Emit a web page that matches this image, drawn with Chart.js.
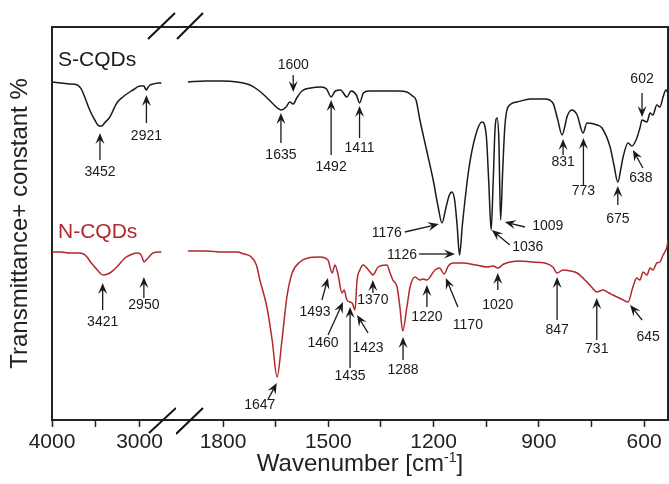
<!DOCTYPE html>
<html><head><meta charset="utf-8">
<script src="https://cdn.jsdelivr.net/npm/chart.js@4.4.1/dist/chart.umd.min.js"></script>
<style>
html,body{margin:0;padding:0;background:#fff;}
#wrap{position:relative;width:669px;height:484px;overflow:hidden;font-family:'Liberation Sans',Arial,sans-serif;}
canvas{position:absolute;top:0;}
#cL{left:0;}
#cR{left:176px;}
#xtitle{position:absolute;left:52px;width:616px;top:449px;text-align:center;font-size:24px;color:#222;line-height:28px;white-space:nowrap;}
#xtitle sup{font-size:14px;line-height:0;vertical-align:9px;}
</style></head><body>
<div id="wrap">
<canvas id="cL" width="176" height="484"></canvas>
<canvas id="cR" width="493" height="484"></canvas>
<div id="xtitle">Wavenumber [cm<sup>-1</sup>]</div>
</div>
<script>
// ---------- DATA ----------
const seriesNames = ['S-CQDs', 'N-CQDs'];
const yTitle = 'Transmittance+ constant %';

// high-wavenumber segment (4000 - 2750 cm-1)
const sWnHigh = [4000,3900,3800,3710,3660,3626,3569,3511,3460,3430,3400,3339,3259,3190,3075,2994,2950,2932,2921,2908,2880,2840,2790,2750];
const sTHigh  = [338,337,336,335,330,323,310,300,294,294,297,303,317,323,330,334,334,331,330,332,335,336,337,337];
const nWnHigh = [4000,3900,3800,3700,3640,3600,3560,3511,3440,3415,3339,3259,3167,3080,3029,2990,2971,2948,2925,2902,2845,2750];
const nTHigh  = [168,168,167,167,166,163,158,153,146,145,147,153,162,166,167,166,163,158,160,162,167,168];

// low-wavenumber segment (1900 - 532 cm-1)
const sWnLow = [1900,1850,1800,1760,1723,1700,1680,1660,1645,1635,1620,1610,1600,1590,1575,1550,1520,1505,1492,1480,1465,1447,1435,1420,1411,1400,1385,1350,1300,1276,1260,1250,1239,1220,1200,1188,1176,1165,1155,1148,1140,1133,1126,1118,1100,1080,1062,1050,1043,1036,1030,1025,1019,1014,1009,1003,997,988,962,925,883,860,846,834,825,820,806,791,774,763,734,720,697,686,675,666,660,646,635,623,612,606,592,583,575,564,555,546,538,532];
const sTLow  = [338,339,339,338,335,330,324,317,312,310,313,318,316,322,329,332,333,331,323,329,330,323,329,325,317,327,329,329,329,328,324,320,300,270,238,215,197,212,225,228,220,195,165,195,250,285,298,285,240,190,240,290,302,280,200,250,293,313,318,321,321,317,300,285,295,303,310,305,287,297,295,292,273,255,238,252,263,277,274,280,292,300,298,307,305,315,313,323,330,327];
const nWnLow = [1900,1850,1800,1760,1740,1723,1705,1695,1675,1660,1646,1632,1618,1603,1581,1558,1524,1501,1489,1481,1472,1461,1455,1447,1438,1432,1424,1418,1410,1401,1381,1373,1358,1333,1324,1316,1304,1296,1288,1276,1267,1253,1239,1230,1219,1196,1183,1170,1158,1145,1116,1080,1048,1030,1017,1000,982,954,920,883,860,848,831,810,791,763,745,735,717,700,689,665,646,632,621,612,603,592,583,575,564,555,546,541,535,532];
const nTLow  = [169,169,168,168,166,164,155,140,113,80,43,80,123,147,158,162,163,160,147,155,145,127,130,120,118,117,110,140,150,155,148,145,153,155,147,140,133,113,89,113,133,143,140,141,140,150,152,146,154,157,157,155,153,154,152,156,158,159,158,157,153,147,150,149,147,138,131,128,130,127,125,121,118,133,142,140,148,145,152,150,157,158,165,168,173,180];

// axis ticks
const xTicksHigh  = [4000, 3500, 3000];
const xLabelsHigh = ['4000', '', '3000'];
const xTicksLow   = [1800, 1650, 1500, 1350, 1200, 1050, 900, 750, 600];
const xLabelsLow  = ['1800', '', '1500', '', '1200', '', '900', '', '600'];

// peak annotations: tip at (wn, t) in data units; tail/text offsets in px
const annHigh = [
  {label:'3452', wn:3452, t:287, tail:[0,27], text:[0,39]},
  {label:'2921', wn:2921, t:325, tail:[0,28], text:[0,41]},
  {label:'3421', wn:3421, t:137, tail:[0,27], text:[0,39]},
  {label:'2950', wn:2950, t:143, tail:[0,21], text:[0,28]}
];
const annLow = [
  {label:'1600', wn:1600, t:328, tail:[0,-17], text:[0,-27]},
  {label:'1635', wn:1635, t:307, tail:[0,30], text:[0,42]},
  {label:'1492', wn:1492, t:320, tail:[0,55], text:[0,67]},
  {label:'1411', wn:1411, t:314, tail:[0,32], text:[0,42]},
  {label:'1176', wn:1185, t:196, tail:[-34,8], text:[-52,9]},
  {label:'1126', wn:1139, t:166, tail:[-36,0], text:[-53,1]},
  {label:'1036', wn:1034, t:190, tail:[18,15], text:[36,17]},
  {label:'1009', wn:997,  t:198, tail:[20,5], text:[43,4]},
  {label:'831',  wn:831,  t:281, tail:[0,16], text:[0,23]},
  {label:'773',  wn:773,  t:282, tail:[0,47], text:[0,53]},
  {label:'675',  wn:675,  t:234, tail:[0,19], text:[0,33]},
  {label:'638',  wn:632,  t:270, tail:[10,18], text:[8,28]},
  {label:'602',  wn:606,  t:303, tail:[0,-24], text:[0,-38]},
  {label:'1647', wn:1647, t:37,  tail:[-9,17], text:[-17,22]},
  {label:'1493', wn:1501, t:142, tail:[-6,22], text:[-13,34]},
  {label:'1460', wn:1458, t:118, tail:[-15,33], text:[-20,41]},
  {label:'1435', wn:1438, t:113, tail:[0,61], text:[0,69]},
  {label:'1423', wn:1418, t:105, tail:[11,18], text:[11,33]},
  {label:'1370', wn:1373, t:140, tail:[0,13], text:[0,20]},
  {label:'1288', wn:1287, t:83,  tail:[0,23], text:[0,33]},
  {label:'1220', wn:1219, t:135, tail:[0,22], text:[0,32]},
  {label:'1170', wn:1165, t:142, tail:[12,29], text:[22,47]},
  {label:'1020', wn:1017, t:147, tail:[0,17], text:[0,32]},
  {label:'847',  wn:848,  t:143, tail:[0,43], text:[0,53]},
  {label:'731',  wn:735,  t:122, tail:[0,42], text:[0,51]},
  {label:'645',  wn:640,  t:115, tail:[12,15], text:[18,32]}
];

// ---------- STYLE ----------
const FONT = "'Liberation Sans', Arial, sans-serif";
const BLACK = '#1a1a1a';
const RED = '#b3272d';
const AXIS = '#222222';
Chart.defaults.font.family = FONT;
Chart.defaults.color = AXIS;

const zip = (xs, ys) => xs.map((x, i) => ({x: x, y: ys[i]}));

function arrow(ctx, x1, y1, x2, y2) {
  const ang = Math.atan2(y2 - y1, x2 - x1);
  const L = 11, W = 4.5;
  const len = Math.hypot(x2 - x1, y2 - y1);
  if (len > L * 0.7) {
    ctx.beginPath(); ctx.moveTo(x1, y1);
    ctx.lineTo(x2 - Math.cos(ang) * L * 0.6, y2 - Math.sin(ang) * L * 0.6);
    ctx.stroke();
  }
  ctx.save(); ctx.translate(x2, y2); ctx.rotate(ang);
  ctx.beginPath(); ctx.moveTo(0, 0); ctx.lineTo(-L, -W); ctx.lineTo(-L * 0.62, 0); ctx.lineTo(-L, W);
  ctx.closePath(); ctx.fill(); ctx.restore();
}

function drawAnnotations(chart, list) {
  const xs = chart.scales.x, ys = chart.scales.y, ctx = chart.ctx;
  ctx.save();
  ctx.fillStyle = BLACK; ctx.strokeStyle = BLACK; ctx.lineWidth = 1.3;
  ctx.font = '14px ' + FONT; ctx.textAlign = 'center'; ctx.textBaseline = 'middle';
  list.forEach(a => {
    const tx = xs.getPixelForValue(a.wn), ty = ys.getPixelForValue(a.t);
    arrow(ctx, tx + a.tail[0], ty + a.tail[1], tx, ty);
    ctx.fillText(a.label, tx + a.text[0], ty + a.text[1]);
  });
  ctx.restore();
}

function seg(ctx, x1, y1, x2, y2) { ctx.beginPath(); ctx.moveTo(x1, y1); ctx.lineTo(x2, y2); ctx.stroke(); }

const decoHigh = {
  id: 'decoHigh',
  afterDraw(chart) {
    const ctx = chart.ctx, a = chart.chartArea;
    ctx.save();
    ctx.strokeStyle = '#111'; ctx.lineWidth = 2;
    seg(ctx, a.right - 28, a.top + 12, a.right - 1, a.top - 14);
    seg(ctx, a.right - 27, a.bottom + 13, a.right, a.bottom - 12);
    ctx.font = '21px ' + FONT; ctx.textAlign = 'left'; ctx.textBaseline = 'middle';
    ctx.fillStyle = BLACK; ctx.fillText(seriesNames[0], a.left + 6, a.top + 33);
    ctx.fillStyle = RED;   ctx.fillText(seriesNames[1], a.left + 6, a.top + 205);
    ctx.restore();
    drawAnnotations(chart, annHigh);
  }
};
const decoLow = {
  id: 'decoLow',
  afterDraw(chart) {
    const ctx = chart.ctx, a = chart.chartArea;
    ctx.save();
    ctx.strokeStyle = '#111'; ctx.lineWidth = 2;
    seg(ctx, a.left + 1, a.top + 12, a.left + 27, a.top - 14);
    seg(ctx, a.left, a.bottom + 14, a.left + 27, a.bottom - 12);
    ctx.restore();
    drawAnnotations(chart, annLow);
  }
};

function xScale(min, max, ticks, labels) {
  return {
    type: 'linear', reverse: true, min: min, max: max,
    afterBuildTicks: s => { s.ticks = ticks.map(v => ({value: v})); },
    afterFit: s => { s.height = 64; },
    ticks: { autoSkip: false, maxRotation: 0, padding: 3, color: AXIS, font: {size: 21},
      callback: (v) => { const i = ticks.indexOf(v); return i >= 0 ? labels[i] : ''; } },
    grid: {display: true, drawOnChartArea: false, drawTicks: true, tickLength: 7, tickColor: AXIS, tickWidth: 1.5},
    border: {display: true, color: AXIS, width: 2}
  };
}

// frame edges (top / right) drawn as bare axes
function topEdge(min, max) {
  return {
    type: 'linear', position: 'top', reverse: true, min: min, max: max,
    afterFit: s => { s.height = 27; },
    ticks: {display: false},
    grid: {display: true, drawOnChartArea: false, drawTicks: false},
    border: {display: true, color: AXIS, width: 2}
  };
}

function datasets(sx, sy, nx, ny) {
  return [
    {label: seriesNames[0], data: zip(sx, sy), borderColor: BLACK, borderWidth: 1.5, pointRadius: 0, cubicInterpolationMode: 'monotone', fill: false},
    {label: seriesNames[1], data: zip(nx, ny), borderColor: RED, borderWidth: 1.5, pointRadius: 0, cubicInterpolationMode: 'monotone', fill: false}
  ];
}

const common = { responsive: false, animation: false, events: [], plugins: {legend: {display: false}, tooltip: {enabled: false}} };

new Chart(document.getElementById('cL'), {
  type: 'line',
  data: {datasets: datasets(sWnHigh, sTHigh, nWnHigh, nTHigh)},
  options: Object.assign({}, common, {
    layout: {padding: {top: 0, left: 0, right: 0, bottom: 0}},
    scales: {
      x: xScale(2583, 4000, xTicksHigh, xLabelsHigh),
      xTop: topEdge(2583, 4000),
      y: { min: 0, max: 393, afterFit: s => { s.width = 52; }, ticks: {display: false},
        grid: {display: true, drawOnChartArea: false, drawTicks: false},
        border: {display: true, color: AXIS, width: 2},
        title: {display: true, text: yTitle, color: AXIS, font: {size: 24}, padding: {top: 6, bottom: 0}} }
    }
  }),
  plugins: [decoHigh]
});

new Chart(document.getElementById('cR'), {
  type: 'line',
  data: {datasets: datasets(sWnLow, sTLow, nWnLow, nTLow)},
  options: Object.assign({}, common, {
    layout: {padding: {top: 0, left: 0, right: 0, bottom: 0}},
    scales: {
      x: xScale(532, 1934, xTicksLow, xLabelsLow),
      xTop: topEdge(532, 1934),
      y: {min: 0, max: 393, display: false},
      yRight: {
        type: 'linear', position: 'right', min: 0, max: 393,
        afterFit: s => { s.width = 1; },
        ticks: {display: false},
        grid: {display: true, drawOnChartArea: false, drawTicks: false},
        border: {display: true, color: AXIS, width: 2}
      }
    }
  }),
  plugins: [decoLow]
});
</script>
</body></html>
